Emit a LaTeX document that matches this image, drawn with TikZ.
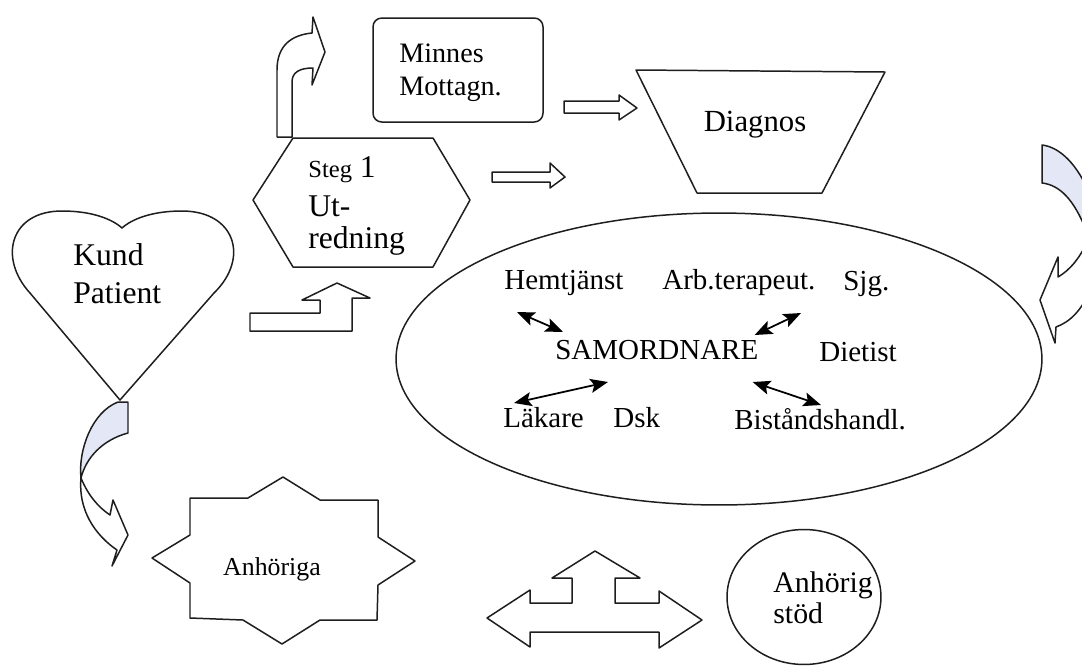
\documentclass[tikz,border=0pt]{standalone}
\usepackage{fontspec}
\setmainfont{Liberation Serif}
\usetikzlibrary{arrows.meta, shapes.geometric}
\definecolor{ink}{RGB}{30,30,30}
\definecolor{backshade}{RGB}{228,231,245}

\begin{document}
\begin{tikzpicture}[x=0.02cm, y=-0.02cm, line join=round, line cap=round,
  outline/.style={draw=ink, line width=0.85pt, fill=white},
  backband/.style={draw=ink, line width=0.85pt, fill=backshade},
  biarrow/.style={{Stealth[length=10pt,width=8pt,inset=2pt]}-{Stealth[length=10pt,width=8pt,inset=2pt]}, line width=1pt, black},
  txt/.style={inner sep=0pt, anchor=base west, align=left},
  teamlbl/.style={inner sep=0pt, anchor=base west, font=\fontsize{16.5}{19}\selectfont}]
	\useasboundingbox[fill=white] (0,0) rectangle (1082,670);
	% heart
	\draw[outline] (120,400) -- (30,293) .. controls (-2,258) and (10,211) .. (62,211) .. controls (92,211) and (112,219) .. (122,228) .. controls (132,219) and (152,211) .. (182,211) .. controls (235,211) and (250,258) .. (214,293) -- cycle;
	\node[txt, font=\fontsize{18}{21.5}\selectfont] (kund) at (73,303) {Kund\\Patient};
	% curved arrow heart -> Anhoriga
	\draw[backband] (118,402) -- (128,402) -- (128,433) .. controls (102,440) and (86,458) .. (81,478) .. controls (78,450) and (92,412) .. (118,402) -- cycle;
	\draw[outline] (81,478) .. controls (88,495) and (98,507) .. (110,515) -- (113,500) -- (128,535) -- (112,566) -- (117,550) .. controls (95,535) and (78,510) .. (81,478) -- cycle;
	% bent arrow -> Steg 1
	\draw[outline] (250,313) -- (320,313) -- (320,300) -- (302,300) -- (337,283) -- (370,298) -- (352,298) -- (352,331) -- (250,331) -- cycle;
	% Steg 1 hexagon
	\draw[outline] (253,200) -- (293,138) -- (433,138) -- (470,200) -- (433,267) -- (293,267) -- cycle;
	\node[txt, font=\fontsize{18}{18}\selectfont] (steg) at (308,248) {{\fontsize{14}{18}\selectfont Steg} 1\\[4pt]Ut-\\redning};
	% curved arrow up from Steg 1
	\draw[outline] (277,137) -- (277,70) .. controls (277,45) and (292,35) .. (312,33) -- (313,17) -- (325,52) -- (312,85) -- (313,68) .. controls (300,68) and (292,72) .. (292,82) -- (292,137) -- cycle;
	% Minnes Mottagn.
	\draw[outline, rounded corners=5pt] (373,18) rectangle (543,122);
	\node[txt, font=\fontsize{16}{18.7}\selectfont] (minnes) at (399,95) {Minnes\\Mottagn.};
	% block arrows towards Diagnos
	\draw[outline] (492,172) -- (550,172) -- (550,163) -- (565,177) -- (550,188) -- (550,182) -- (492,182) -- cycle;
	\draw[outline] (564,101) -- (619,101) -- (619,95) -- (637,108) -- (619,120) -- (619,113) -- (564,113) -- cycle;
	% Diagnos
	\draw[outline] (636,70) -- (885,72) -- (822,193) -- (697,193) -- cycle;
	\node[inner sep=0pt, font=\fontsize{17.5}{20}\selectfont] (diagnos) at (755,125) {Diagnos};
	% curved arrow on the right edge
	\begin{scope}
		\clip (0,0) rectangle (1082,670);
		\draw[backband] (1042,145) -- (1042,183) .. controls (1060,185) and (1074,200) .. (1086,230) -- (1090,195) .. controls (1078,165) and (1060,147) .. (1042,145) -- cycle;
		\draw[outline] (1088,240) .. controls (1080,258) and (1070,270) .. (1058,277) -- (1058,257) -- (1040,300) -- (1055,343) -- (1056,327) .. controls (1070,322) and (1082,310) .. (1090,290) -- cycle;
	\end{scope}
	% team ellipse
	\node[outline, ellipse, minimum width=12.92cm, minimum height=5.84cm, inner sep=0pt] (team) at (719,359) {};
	\node[teamlbl] (hemt) at (504,289) {Hemtjänst};
	\node[teamlbl] (arb) at (662,289) {Arb.terapeut.};
	\node[teamlbl] (sjg) at (843,290) {Sjg.};
	\node[teamlbl] (samo) at (555,359) {SAMORDNARE};
	\node[teamlbl] (dietist) at (819,361) {Dietist};
	\node[teamlbl] (lakare) at (503,427) {Läkare};
	\node[teamlbl] (dsk) at (613,427) {Dsk};
	\node[teamlbl] (bist) at (734,429) {Biståndshandl.};
	\draw[biarrow] ([shift={(13,23)}]hemt.base west) -- ([shift={(8,-27)}]samo.base west);
	\draw[biarrow] ([shift={(139,24)}]arb.base west) -- ([shift={(-4,-24)}]samo.base east);
	\draw[biarrow] ([shift={(11,-24)}]lakare.base west) -- ([shift={(53,23)}]samo.base west);
	\draw[biarrow] ([shift={(-6,23)}]samo.base east) -- ([shift={(87,-24)}]bist.base west);
	% Anhoriga star
	\draw[outline] (190,498) -- (248,498) -- (283,477) -- (320,500) -- (378,500) -- (378,537) -- (415,561) -- (378,585) -- (377,620) -- (320,620) -- (282,644) -- (243,620) -- (190,618) -- (190,583) -- (152,558) -- (190,535) -- cycle;
	\node[inner sep=0pt, anchor=base, font=\fontsize{14.7}{17}\selectfont] (anhoriga) at (272,575) {Anhöriga};
	% three-way arrow
	\draw[outline] (487,618) -- (530,590) -- (530,603) -- (572,603) -- (572,578) -- (552,578) -- (595,551) -- (640,578) -- (615,578) -- (615,603) -- (659,603) -- (659,591) -- (702,620) -- (659,648) -- (659,632) -- (530,632) -- (530,647) -- cycle;
	% Anhorig stod
	\node[outline, ellipse, minimum width=3.08cm, minimum height=2.7cm, inner sep=0pt] (stod) at (804,597) {};
	\node[txt, font=\fontsize{17}{17.6}\selectfont] (stodtxt) at (773,623) {Anhörig\\stöd};
\end{tikzpicture}
\end{document}
